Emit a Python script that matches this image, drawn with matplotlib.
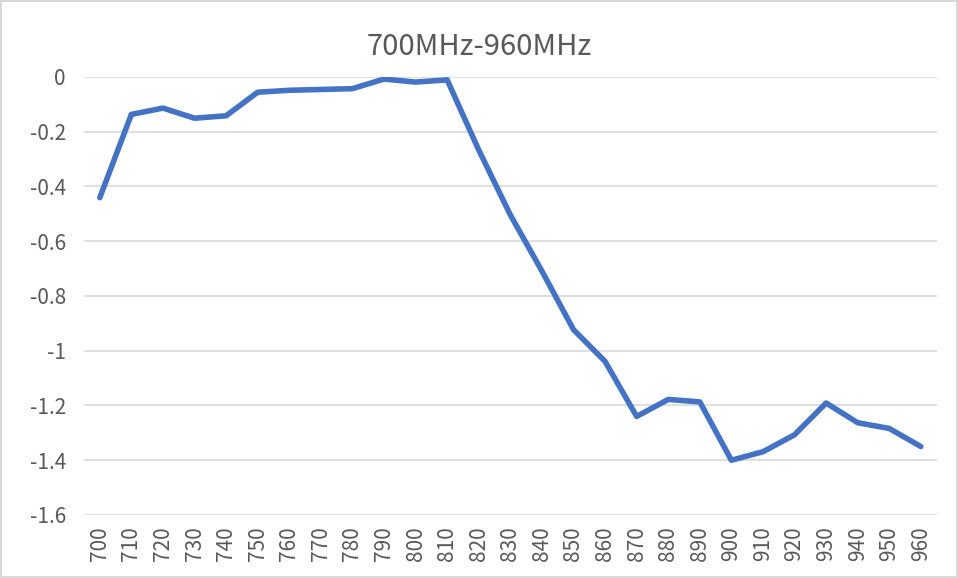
import numpy as np
import matplotlib.pyplot as plt

plt.rcParams['font.family'] = ['Noto Sans CJK SC', 'DejaVu Sans']

freqs = [700, 710, 720, 730, 740, 750, 760, 770, 780, 790, 800, 810, 820, 830,
         840, 850, 860, 870, 880, 890, 900, 910, 920, 930, 940, 950, 960]
values = [-0.441, -0.137, -0.114, -0.151, -0.142, -0.056, -0.049, -0.046, -0.043,
          -0.008, -0.019, -0.011, -0.267, -0.504, -0.709, -0.923, -1.039, -1.240,
          -1.178, -1.187, -1.400, -1.369, -1.307, -1.191, -1.263, -1.284, -1.350]
y_ticks = [0, -0.2, -0.4, -0.6, -0.8, -1, -1.2, -1.4, -1.6]
y_labels = ["0", "-0.2", "-0.4", "-0.6", "-0.8", "-1", "-1.2", "-1.4", "-1.6"]

fig = plt.figure(figsize=(9.58, 5.78), dpi=100)
fig.patch.set_edgecolor("#D9D9D9")
fig.patch.set_linewidth(1.5)
ax = fig.add_axes([0.0877, 0.109, 0.890, 0.758])

x = np.arange(len(freqs))
ax.plot(x, values, color="#4472C4", linewidth=4, solid_capstyle="round",
        solid_joinstyle="round", zorder=3)

ax.set_xlim(-0.5, len(freqs) - 0.5)
ax.set_ylim(-1.6, 0)
ax.set_xticks(x)
ax.set_xticklabels([str(f) for f in freqs], rotation=90, fontsize=15, color="#595959")
ax.set_yticks(y_ticks)
ax.set_yticklabels(y_labels, fontsize=15, color="#595959")
ax.tick_params(axis="both", length=0)
ax.tick_params(axis="y", pad=13)
ax.tick_params(axis="x", pad=8)

ax.grid(axis="y", color="#D9D9D9", linewidth=1.2)
ax.set_axisbelow(True)
for s in ax.spines.values():
    s.set_visible(False)

fig.text(0.5, 0.918, "700MHz-960MHz", ha="center", va="center",
         fontsize=21, color="#595959")

fig.savefig("out.png", dpi=100)
